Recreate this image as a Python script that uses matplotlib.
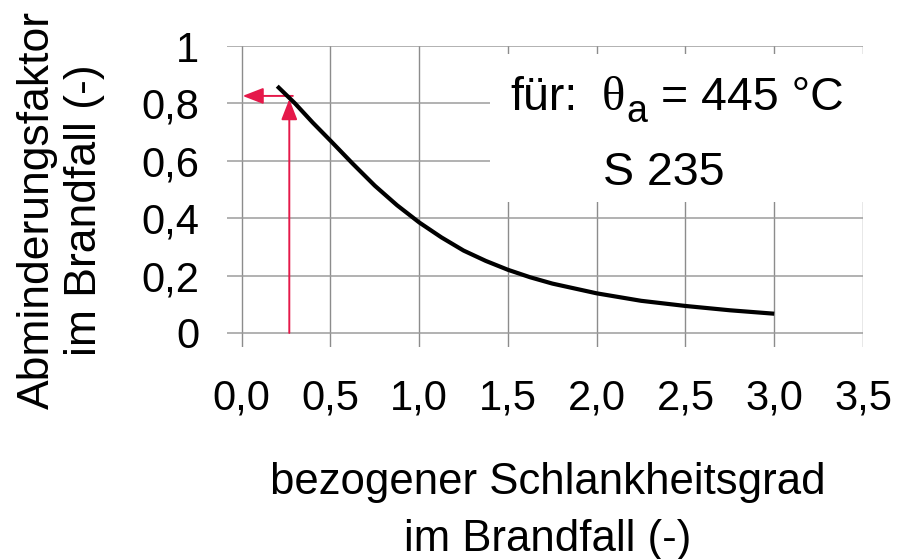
import matplotlib
matplotlib.use("Agg")
import matplotlib.pyplot as plt
from matplotlib.patches import Rectangle

# ---- data ----
slenderness = [0.20, 0.30, 0.40, 0.50, 0.625, 0.75, 0.875, 1.00, 1.125, 1.25,
               1.375, 1.50, 1.625, 1.75, 2.00, 2.25, 2.50, 2.75, 3.00]
reduction = [0.86, 0.80, 0.733, 0.67, 0.59, 0.513, 0.445, 0.385, 0.333, 0.287,
             0.251, 0.220, 0.194, 0.172, 0.138, 0.112, 0.094, 0.079, 0.067]

x_ticks = [0.0, 0.5, 1.0, 1.5, 2.0, 2.5, 3.0, 3.5]
x_tick_labels = ["0,0", "0,5", "1,0", "1,5", "2,0", "2,5", "3,0", "3,5"]
y_ticks = [0.0, 0.2, 0.4, 0.6, 0.8, 1.0]
y_tick_labels = ["0", "0,2", "0,4", "0,6", "0,8", "1"]

read_x = 0.268      # marked slenderness
read_y = 0.815      # curve value at that slenderness
read_y_h = 0.826    # horizontal arrow level

ylabel_lines = ["Abminderungsfaktor", "im Brandfall (-)"]
xlabel_lines = ["bezogener Schlankheitsgrad", "im Brandfall (-)"]

RED = "#E5194A"
FONT = "Liberation Sans"

W, H = 900, 559
fig = plt.figure(figsize=(W / 100, H / 100), dpi=100)
fig.patch.set_facecolor("white")


def fx(px):
    return px / W


def fy(py):
    return 1 - py / H


# axes: left 227px, right 863px, top 46px, bottom 347px
ax = fig.add_axes([fx(227), fy(347), fx(863) - fx(227), fy(46) - fy(347)])
ax.set_xlim(-0.083, 3.5)
ax.set_ylim(-0.049, 1.0)
for s in ax.spines.values():
    s.set_visible(False)

# grid
for xv in x_ticks:
    ax.axvline(xv, color="#8c8c8c", lw=1.0, zorder=1)
for yv in y_ticks:
    ax.axhline(yv, color="#9c9c9c", lw=1.1, zorder=1)

# white box behind annotation text
ax.add_patch(Rectangle((1.40, 0.456), 2.3, 0.516, facecolor="white",
                       edgecolor="none", zorder=2, clip_on=False))

# curve
ax.plot(slenderness, reduction, color="black", lw=3.0, zorder=4,
        solid_capstyle="butt", solid_joinstyle="round")

# red reading arrows
ax.annotate("", xy=(read_x, read_y), xytext=(read_x, 0.0),
            arrowprops=dict(arrowstyle="-|>,head_length=0.9,head_width=0.35",
                            color=RED, lw=1.4, shrinkA=0, shrinkB=0,
                            mutation_scale=14), zorder=3)
ax.annotate("", xy=(0.005, read_y_h), xytext=(read_x + 0.02, read_y_h),
            arrowprops=dict(arrowstyle="-|>,head_length=0.9,head_width=0.35",
                            color=RED, lw=1.4, shrinkA=0, shrinkB=0,
                            mutation_scale=14), zorder=3)

# ticks
ax.set_xticks(x_ticks)
ax.set_xticklabels(x_tick_labels, fontsize=30, family=FONT)
ax.set_yticks(y_ticks)
ax.set_yticklabels(y_tick_labels, fontsize=30, family=FONT)
ax.tick_params(axis="x", length=0, pad=23)
ax.tick_params(axis="y", length=0, pad=20)

# axis labels
fig.text(fx(37), fy(210), ylabel_lines[0], rotation=90, ha="center",
         va="center", fontsize=32, family=FONT)
fig.text(fx(85), fy(210), ylabel_lines[1], rotation=90, ha="center",
         va="center", fontsize=32, family=FONT)
fig.text(fx(548), fy(494), xlabel_lines[0], ha="center", va="baseline",
         fontsize=31.5, family=FONT)
fig.text(fx(548), fy(551), xlabel_lines[1], ha="center", va="baseline",
         fontsize=31.5, family=FONT)

# annotation
fig.text(fx(510), fy(110), "für:", ha="left", va="baseline", fontsize=33.5, family=FONT)
fig.text(fx(602), fy(110), "θ", ha="left", va="baseline", fontsize=35,
         family="Liberation Serif")
fig.text(fx(626), fy(122), "a", ha="left", va="baseline", fontsize=27, family=FONT)
fig.text(fx(661), fy(110), "= 445 °C", ha="left", va="baseline", fontsize=33.5, family=FONT)
fig.text(fx(603), fy(185), "S 235", ha="left", va="baseline", fontsize=33.5, family=FONT)

fig.savefig("out.png", dpi=100, facecolor="white")
